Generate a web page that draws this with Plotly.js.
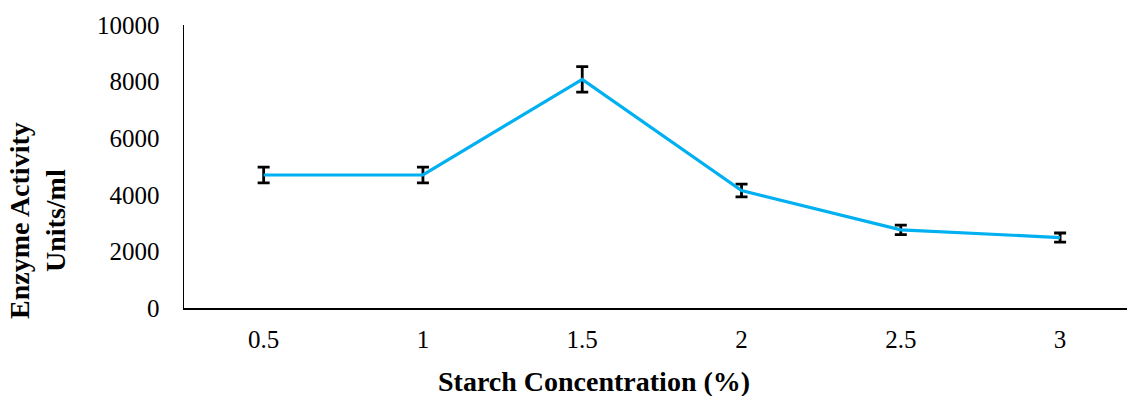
<!DOCTYPE html>
<html>
<head>
<meta charset="utf-8">
<script src="https://cdn.plot.ly/plotly-3.0.1.min.js"></script>
<style>html,body{margin:0;padding:0;background:#fff;}#chart{width:1127px;height:396px;}</style>
</head>
<body>
<div id="chart"></div>
<script>
const categories = ["0.5", "1", "1.5", "2", "2.5", "3"];
const activity = [4700, 4700, 8080, 4150, 2760, 2490];
const errors = [280, 280, 450, 225, 165, 160];
const yTickVals = [0, 2000, 4000, 6000, 8000, 10000];
const yTickText = ["0", "2000", "4000", "6000", "8000", "10000"];
const xTitle = "Starch Concentration (%)";
const yTitle = "Enzyme Activity<br>Units/ml";

const font = "'Liberation Serif', 'Times New Roman', serif";

const trace = {
  x: categories,
  y: activity,
  type: "scatter",
  mode: "lines",
  line: {color: "#00B0F0", width: 3.2},
  error_y: {type: "data", array: errors, visible: true, color: "#000000", thickness: 2.8, width: 6}
};

const layout = {
  width: 1127,
  height: 396,
  margin: {l: 184, r: 0, t: 25, b: 88},
  paper_bgcolor: "#ffffff",
  plot_bgcolor: "#ffffff",
  showlegend: false,
  font: {family: font, size: 25, color: "#000000"},
  xaxis: {
    type: "category",
    range: [-0.5, 5.42],
    showgrid: false,
    zeroline: false,
    showline: true,
    linecolor: "#000000",
    linewidth: 1.5,
    ticks: "",
    ticklabelstandoff: 8,
    tickfont: {family: font, size: 25, color: "#000000"}
  },
  yaxis: {
    range: [0, 10000],
    tickvals: yTickVals,
    ticktext: yTickText,
    showgrid: false,
    zeroline: false,
    showline: true,
    linecolor: "#000000",
    linewidth: 1.5,
    ticks: "",
    ticklabelstandoff: 18,
    tickfont: {family: font, size: 25, color: "#000000"}
  },
  annotations: [
    {
      text: "<b>" + xTitle + "</b>",
      xref: "paper", yref: "paper",
      x: (594 - 184) / 943, y: (308 - 381) / 283,
      xanchor: "center", yanchor: "middle",
      showarrow: false,
      font: {family: font, size: 28, color: "#000000"}
    },
    {
      text: "<b>" + yTitle + "</b>",
      xref: "paper", yref: "paper",
      x: (37 - 184) / 943, y: (308 - 221) / 283,
      xanchor: "center", yanchor: "middle",
      textangle: -90,
      showarrow: false,
      font: {family: font, size: 28, color: "#000000"}
    }
  ]
};

Plotly.newPlot("chart", [trace], layout, {displayModeBar: false, staticPlot: true});
</script>
</body>
</html>
